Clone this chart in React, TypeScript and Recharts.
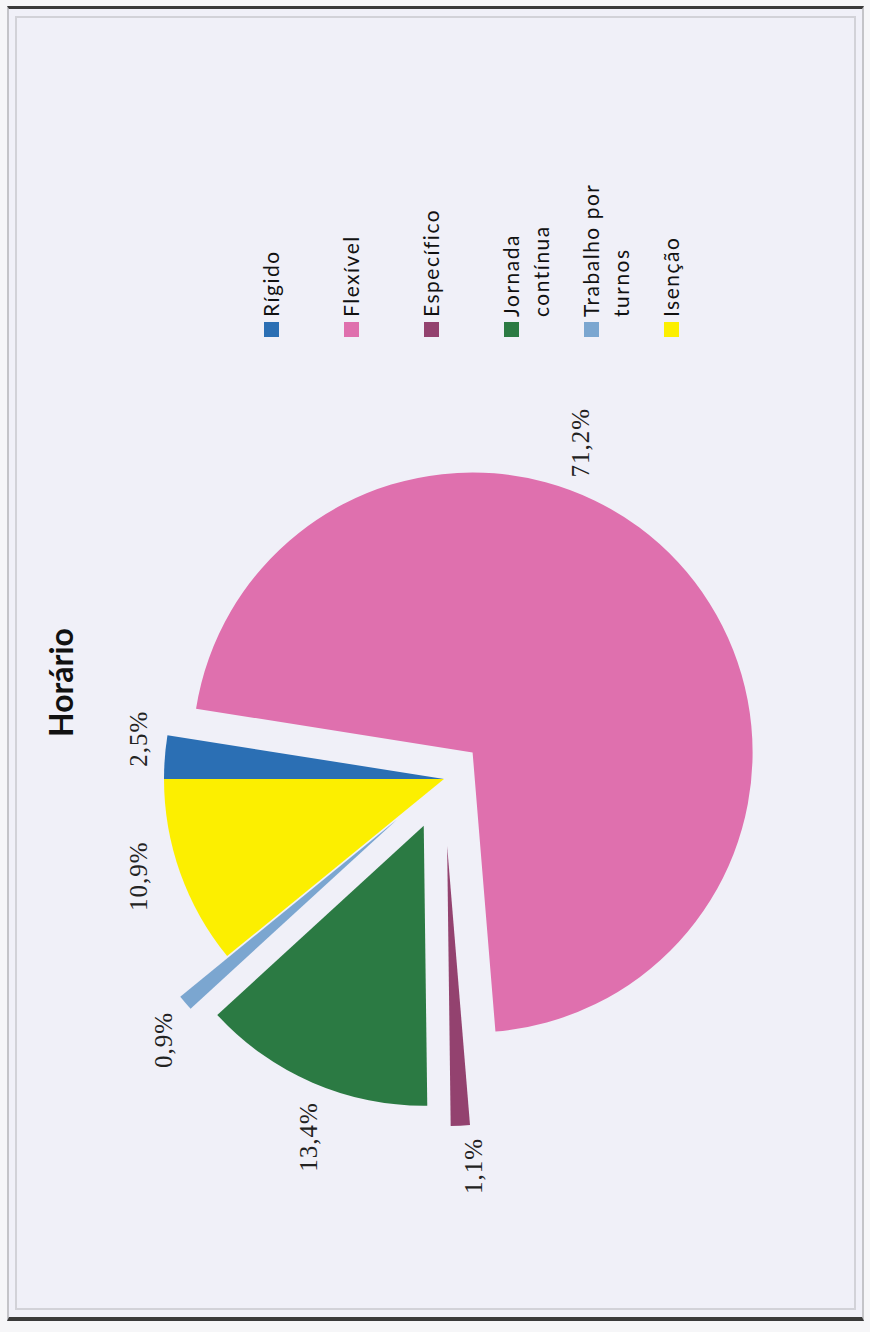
import { Cell, Legend, Pie, PieChart } from "recharts";

const categories = [
  "Rígido",
  "Flexível",
  "Específico",
  "Jornada contínua",
  "Trabalho por turnos",
  "Isenção",
];
const values = [2.5, 71.2, 1.1, 13.4, 0.9, 10.9];
const colors = ["#2b6fb4", "#df70ae", "#93426f", "#2b7a43", "#7ba6d0", "#fcef00"];

// how far each slice is pulled out, px
const explode = [0, 39, 67, 51, 62, 0];
// label distance / angle tweak per slice
const labelDist = [308, 328, 321, 332, 321, 321];
const labelShift = [-3, 28, 2, 3, 2.5, -2];

const data = categories.map((name, i) => ({ name, value: values[i] }));

// chart is drawn landscape and turned a quarter left, like the scan
const W = 1332;
const H = 870;
const CX = 553;
const CY = 444;
const R = 280;
const RAD = Math.PI / 180;
const total = values.reduce((a, b) => a + b, 0);

const midAngle = (i: number) => {
  const before = values.slice(0, i).reduce((a, b) => a + b, 0);
  return 90 - (360 * (before + values[i] / 2)) / total;
};

const fmt = (v: number) => v.toFixed(1).replace(".", ",") + "%";

const makeLabel = (k: number) => (props: any) => {
  if (props.index !== k) return null;
  const a = (props.midAngle + labelShift[k]) * RAD;
  const x = props.cx + labelDist[k] * Math.cos(a);
  const y = props.cy - labelDist[k] * Math.sin(a);
  return (
    <text
      x={x}
      y={y}
      textAnchor="middle"
      dominantBaseline="central"
      fill="#222"
      fontFamily="'Liberation Serif', serif"
      fontSize={25}
      letterSpacing={1}
    >
      {fmt(values[k])}
    </text>
  );
};

const renderLegend = () => (
  <div
    style={{
      fontFamily: "Lato, sans-serif",
      fontSize: 21,
      letterSpacing: 1.5,
      color: "#111",
    }}
  >
    {categories.map((c, i) => (
      <div key={c} style={{ display: "flex", alignItems: "flex-start", height: 80 }}>
        <span
          style={{
            width: 15,
            height: 15,
            background: colors[i],
            marginTop: 7.5,
            marginRight: 5,
            flexShrink: 0,
          }}
        />
        <span style={{ width: 145, lineHeight: "30px" }}>{c}</span>
      </div>
    ))}
  </div>
);

const App = () => {
  return (
    <div
      style={{
        position: "absolute",
        left: 0,
        top: 0,
        width: 870,
        height: 1332,
        overflow: "hidden",
        background: "#f6f6f8",
      }}
    >
      <div
        style={{
          position: "absolute",
          left: 7,
          top: 6,
          width: 853,
          height: 1308,
          background: "#f0f0f8",
          borderTop: "3px solid #3a3a3a",
          borderBottom: "4px solid #3a3a3a",
          borderLeft: "2px solid #c4c4c8",
          borderRight: "2px solid #c4c4c8",
        }}
      >
        <div
          style={{
            position: "absolute",
            left: 6,
            top: 7,
            right: 6,
            bottom: 7,
            border: "2px solid #d2d2d8",
          }}
        />
      </div>
      <div
        style={{
          position: "absolute",
          left: 0,
          top: 0,
          width: W,
          height: H,
          transformOrigin: "0 0",
          transform: `translateY(${W}px) rotate(-90deg)`,
        }}
      >
        <div
          style={{
            position: "absolute",
            left: 595,
            top: 45,
            fontFamily: "Lato, sans-serif",
            fontWeight: 700,
            fontSize: 32,
            lineHeight: "32px",
            color: "#111",
            whiteSpace: "nowrap",
          }}
        >
          Horário
        </div>
        <PieChart width={W} height={H} margin={{ top: 0, right: 0, bottom: 0, left: 0 }}>
          {values.map((_, k) => {
            const m = midAngle(k) * RAD;
            return (
              <Pie
                key={k}
                data={data}
                dataKey="value"
                nameKey="name"
                cx={CX + explode[k] * Math.cos(m)}
                cy={CY - explode[k] * Math.sin(m)}
                innerRadius={0}
                outerRadius={R}
                startAngle={90}
                endAngle={-270}
                stroke="none"
                legendType="none"
                label={makeLabel(k)}
                labelLine={false}
                isAnimationActive={false}
              >
                {data.map((d, i) => (
                  <Cell key={d.name} fill={i === k ? colors[i] : "none"} />
                ))}
              </Pie>
            );
          })}
          <Legend
            layout="vertical"
            align="right"
            verticalAlign="middle"
            content={renderLegend}
            wrapperStyle={{ left: 995, top: 256, width: 200 }}
          />
        </PieChart>
      </div>
    </div>
  );
};

export default App;
